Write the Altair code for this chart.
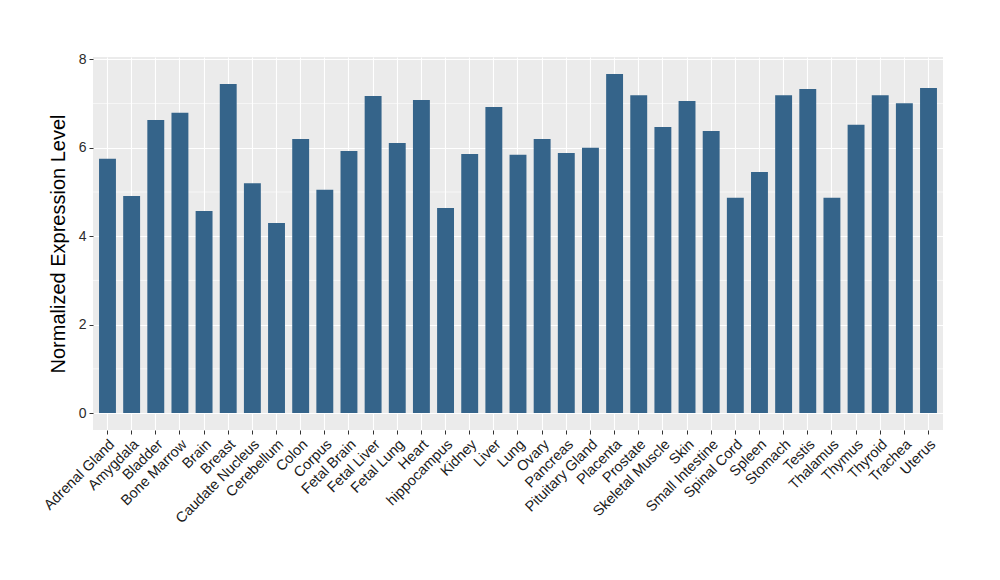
import altair as alt
import pandas as pd

tissues = ["Adrenal Gland", "Amygdala", "Bladder", "Bone Marrow", "Brain", "Breast",
           "Caudate Nucleus", "Cerebellum", "Colon", "Corpus", "Fetal Brain", "Fetal Liver",
           "Fetal Lung", "Heart", "hippocampus", "Kidney", "Liver", "Lung", "Ovary",
           "Pancreas", "Pituitary Gland", "Placenta", "Prostate", "Skeletal Muscle", "Skin",
           "Small Intestine", "Spinal Cord", "Spleen", "Stomach", "Testis", "Thalamus",
           "Thymus", "Thyroid", "Trachea", "Uterus"]
values = [5.75, 4.91, 6.63, 6.79, 4.57, 7.44, 5.20, 4.30, 6.20, 5.05, 5.93, 7.17,
          6.11, 7.08, 4.64, 5.86, 6.92, 5.84, 6.20, 5.88, 6.00, 7.67, 7.19, 6.47, 7.06,
          6.38, 4.87, 5.45, 7.19, 7.33, 4.87, 6.52, 7.19, 7.01, 7.35]
major_ticks = [0, 2, 4, 6, 8]
minor_grid = [1, 3, 5, 7]

df = pd.DataFrame({"tissue": tissues, "value": values})
minor_df = pd.DataFrame({"y": minor_grid})

FONT = "Liberation Sans"
ydomain = [-0.3835, 8.0535]

yscale = alt.Scale(domain=ydomain, nice=False, zero=False)
yaxis = alt.Axis(values=major_ticks, format="d",
                 labelFont=FONT, labelFontSize=14, labelColor="#2b2b2b",
                 labelPadding=3,
                 tickSize=4, tickColor="#333333", tickWidth=1,
                 domain=False, grid=True, gridColor="white", gridWidth=1.1,
                 titleFont=FONT, titleFontSize=20, titleFontWeight="normal",
                 titleColor="black", titlePadding=10)
YTITLE = "Normalized Expression Level"

minor = alt.Chart(minor_df).mark_rule(color="white", strokeWidth=0.6).encode(
    y=alt.Y("y:Q", scale=yscale, axis=yaxis, title=YTITLE)
)

bars = alt.Chart(df).mark_bar(color="#35648A").encode(
    x=alt.X("tissue:N", sort=tissues, title=None,
            scale=alt.Scale(paddingInner=0.3, paddingOuter=0.25),
            axis=alt.Axis(labelAngle=-45, labelAlign="right", labelBaseline="top",
                          labelFont=FONT, labelFontSize=14.5, labelColor="#1a1a1a",
                          labelPadding=3,
                          ticks=True, tickSize=4, tickColor="#333333", tickWidth=1,
                          domain=False, grid=True, gridColor="white", gridWidth=1.1,
                          bandPosition=0.5)),
    y=alt.Y("value:Q", scale=yscale, title=YTITLE, axis=yaxis),
    y2=alt.datum(0),
)

chart = alt.layer(minor, bars).properties(
    width=850, height=373,
    autosize=alt.AutoSizeParams(type="none"),
    padding={"left": 85, "top": 49, "right": 40, "bottom": 120},
    background="white",
).configure_view(fill="#EBEBEB", stroke=None)

chart.save("out.html", embed_options={"renderer": "svg", "actions": False})
